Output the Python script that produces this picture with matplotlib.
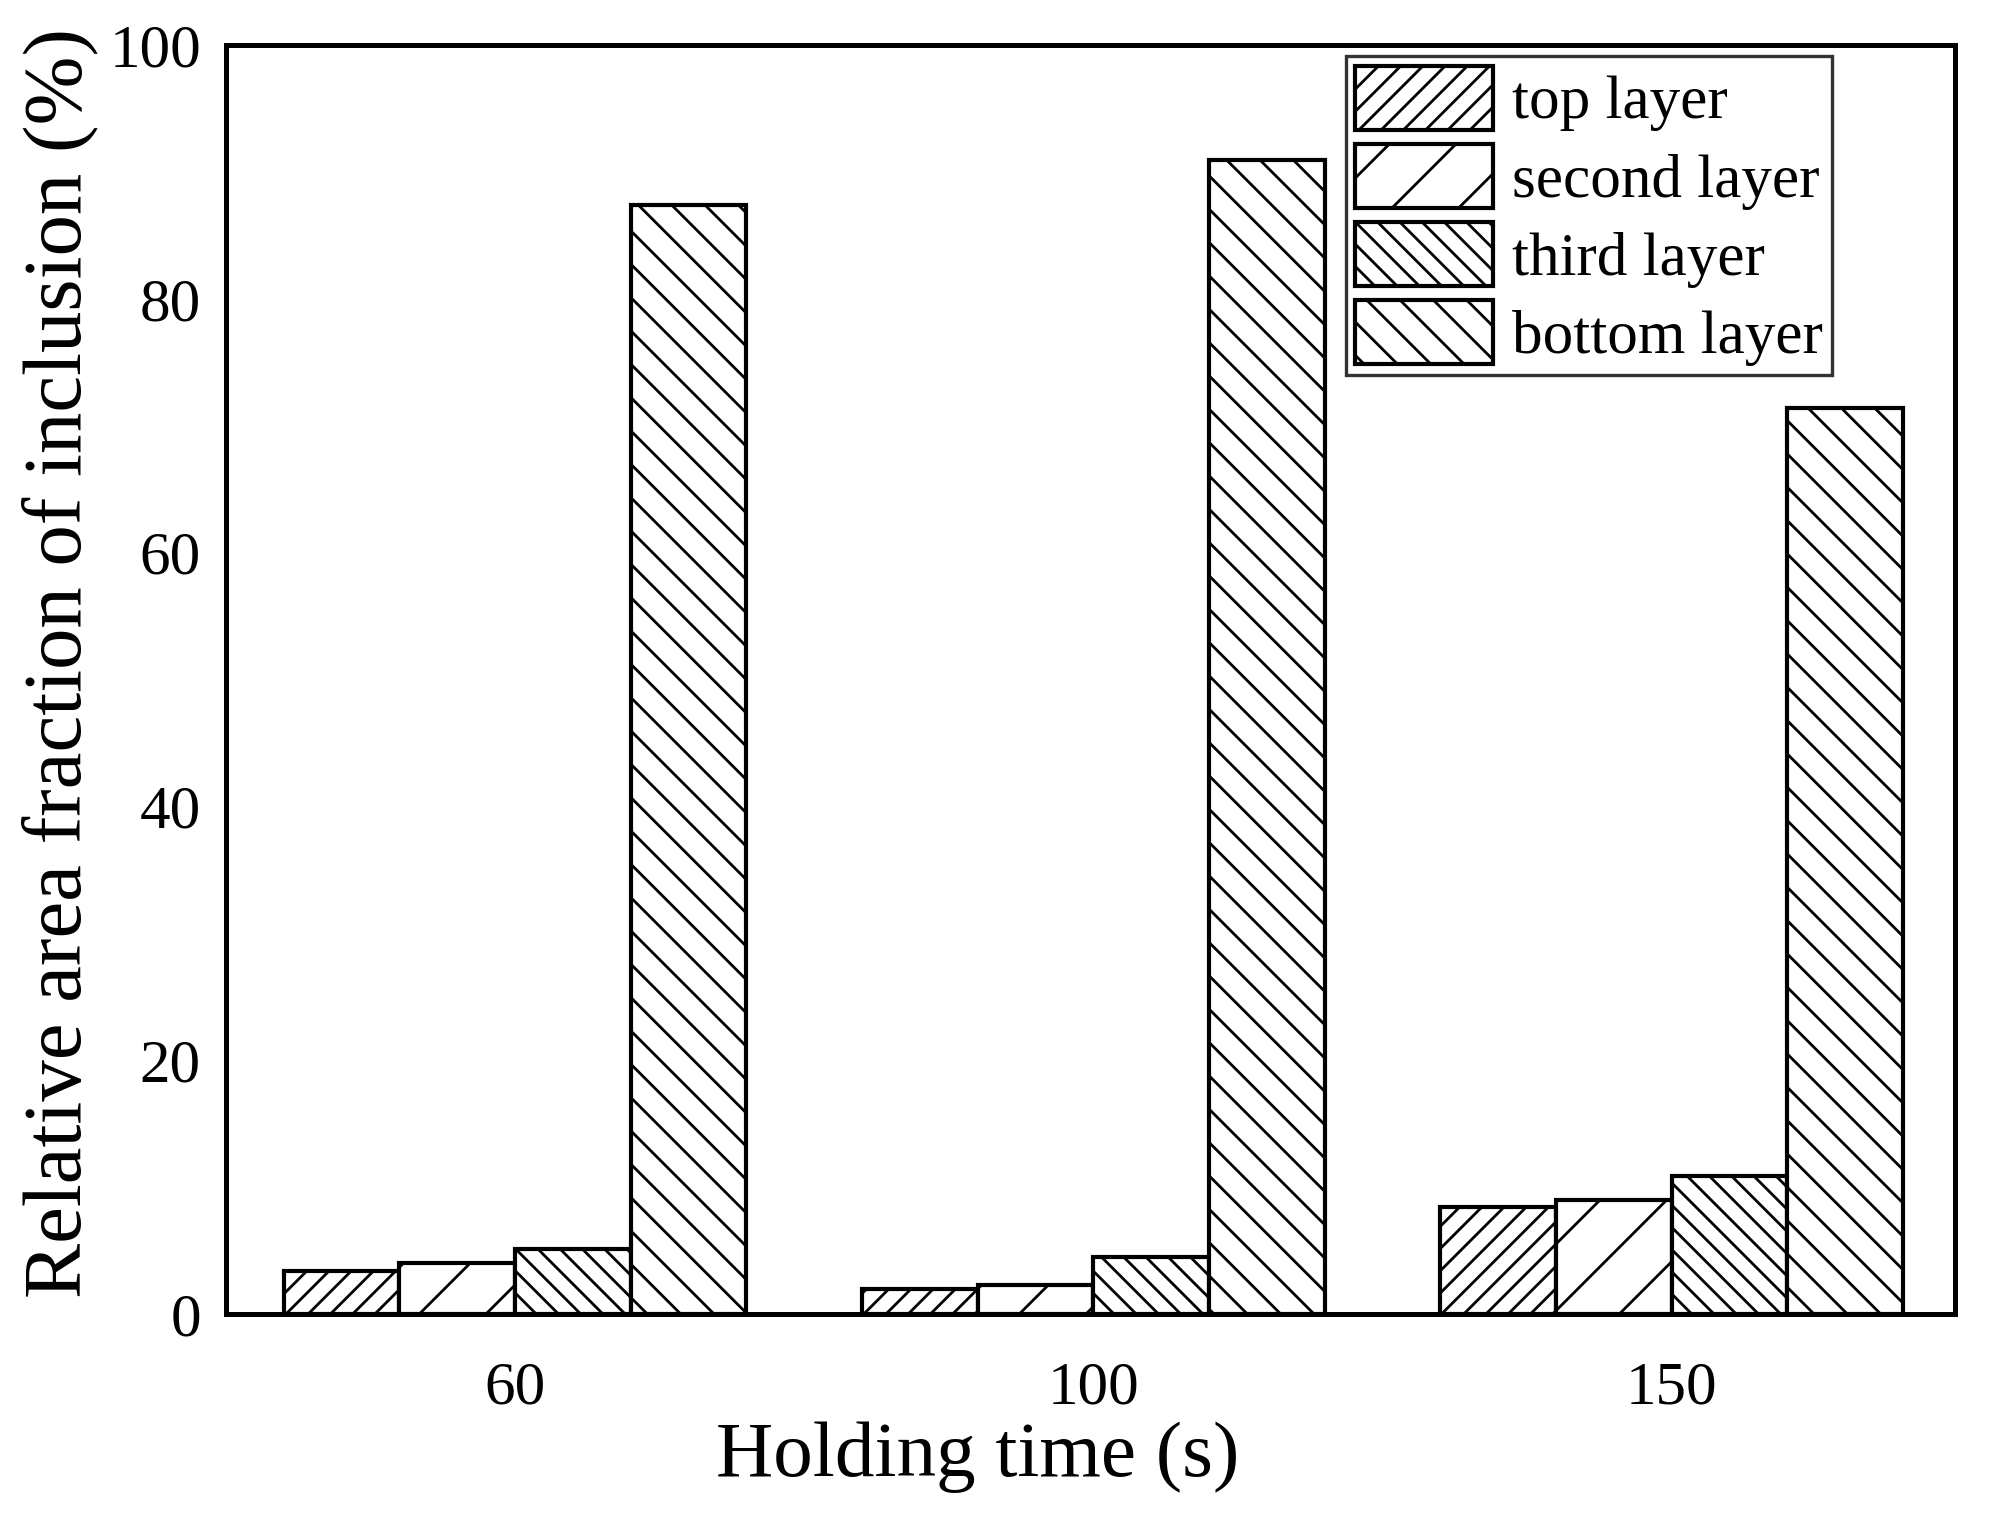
import numpy as np
import matplotlib
matplotlib.use("Agg")
import matplotlib.pyplot as plt

# =========================
# DATA
# =========================
holding_time = ["60", "100", "150"]
layers = ["top layer", "second layer", "third layer", "bottom layer"]
top_layer = [3.4, 2.0, 8.4]
second_layer = [4.0, 2.3, 9.0]
third_layer = [5.1, 4.5, 10.9]
bottom_layer = [87.4, 90.9, 71.4]
hatches = ["///", "/", "\\\\\\", "\\\\"]

# =========================
# STYLE
# =========================
plt.rcParams["font.family"] = ["Liberation Serif", "DejaVu Serif"]
plt.rcParams["hatch.linewidth"] = 1.0
plt.rcParams["hatch.color"] = "black"

fig = plt.figure(figsize=(9.955, 7.575), dpi=200)
ax = fig.add_axes([0.1135, 0.1327, 0.8685, 0.8376])

x = np.arange(len(holding_time))
width = 0.2
series = [top_layer, second_layer, third_layer, bottom_layer]

for i, (vals, name, h) in enumerate(zip(series, layers, hatches)):
    ax.bar(x + (i - 1.5) * width, vals, width, label=name,
           facecolor="white", edgecolor="black", linewidth=1.5, hatch=h)

ax.set_xlim(-0.5, 2.49)
ax.set_ylim(0, 100)
ax.set_xticks(x)
ax.set_xticklabels(holding_time)
ax.set_yticks([0, 20, 40, 60, 80, 100])
ax.tick_params(axis="both", length=0, labelsize=22)
ax.tick_params(axis="x", pad=17)
ax.tick_params(axis="y", pad=9)

for s in ax.spines.values():
    s.set_linewidth(1.8)

ax.set_xlabel("Holding time (s)", fontsize=28.5)
ax.set_ylabel("Relative area fraction of inclusion (%)", fontsize=29.8)
ax.xaxis.set_label_coords(0.435, -0.085)
ax.yaxis.set_label_coords(-0.074, 0.513)

leg = ax.legend(loc="upper right", bbox_to_anchor=(0.929, 0.991),
                fontsize=22, frameon=True, fancybox=False,
                handlelength=2.26, handleheight=1.25, labelspacing=0.2,
                handletextpad=0.31, borderpad=0.15, borderaxespad=0)
leg.get_frame().set_edgecolor("black")
leg.get_frame().set_linewidth(1.2)

fig.savefig("out.png", dpi=200)
